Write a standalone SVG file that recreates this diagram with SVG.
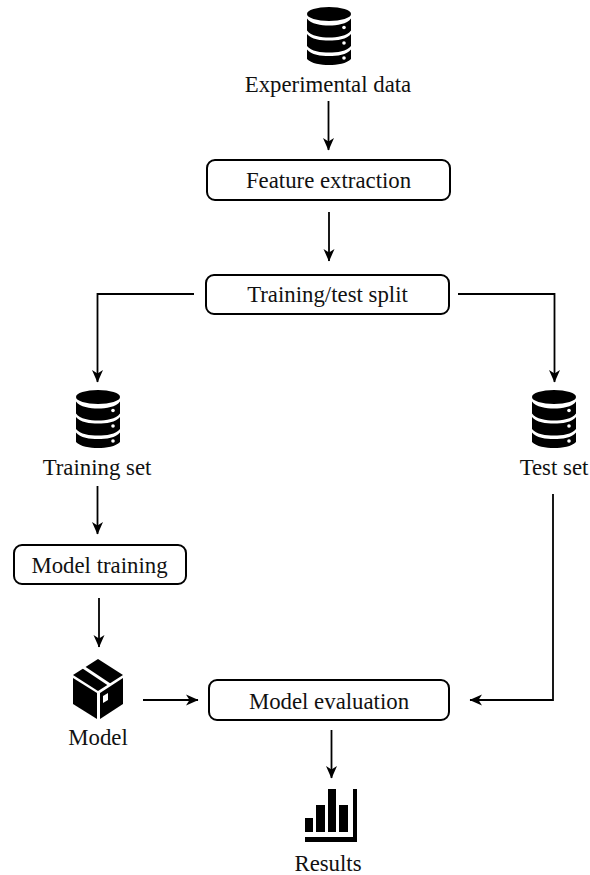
<svg xmlns="http://www.w3.org/2000/svg" width="590" height="875" viewBox="0 0 590 875">
<style>
text{font-family:"Liberation Serif","Times New Roman",serif;font-size:22.8px;fill:#111;text-anchor:middle}
.box{fill:#fff;stroke:#000;stroke-width:2}
.c{fill:none;stroke:#000;stroke-width:1.8;marker-end:url(#a)}
</style>
<defs>
<marker id="a" viewBox="0 0 13 12" refX="12" refY="6" markerWidth="13" markerHeight="12" markerUnits="userSpaceOnUse" orient="auto"><path d="M0,0.500L12.500,6L0,11.500L3.500,6Z" fill="#000"/></marker>
<symbol id="db" viewBox="0 0 44 58" width="44" height="58" overflow="visible">
<ellipse cx="22" cy="7" rx="22" ry="7"/>
<path d="M0,11.500C4,17 14,18.500 22,18.500S40,17 44,11.500V23.500C40,29 30,30.500 22,30.500S4,29 0,23.500Z"/>
<path d="M0,27C4,32.500 14,33.500 22,33.500S40,32.500 44,27V39C40,44.500 30,45.500 22,45.500S4,44.500 0,39Z"/>
<path d="M0,42.500C4,48 14,49 22,49S40,48 44,42.500V52C40,56.500 30,58 22,58S4,56.500 0,52Z"/>
<circle cx="37" cy="20.500" r="1.800" fill="#fff"/><circle cx="37" cy="36" r="1.800" fill="#fff"/><circle cx="37" cy="51" r="1.800" fill="#fff"/>
</symbol>
</defs>
<g id="connectors">
<path class="c" d="M328.500,101V150"/>
<path class="c" d="M329,212V261"/>
<path class="c" d="M194,294H97.500V382"/>
<path class="c" d="M458,294H554.500V382"/>
<path class="c" d="M97.500,486V534"/>
<path class="c" d="M99,598V647"/>
<path class="c" d="M143,700H198"/>
<path class="c" d="M553,494V700H470"/>
<path class="c" d="M331.500,730V778"/>
</g>
<g id="experimental-data"><use href="#db" x="307" y="7"/><text x="328" y="92">Experimental data</text></g>
<g id="feature-extraction"><rect class="box" x="207" y="160" width="243" height="40" rx="8"/><text x="328.500" y="188">Feature extraction</text></g>
<g id="training-test-split"><rect class="box" x="206" y="275" width="243" height="39" rx="8"/><text x="327.500" y="302">Training/test split</text></g>
<g id="training-set"><use href="#db" x="76" y="390"/><text x="97" y="475">Training set</text></g>
<g id="test-set"><use href="#db" x="532" y="390"/><text x="554" y="475">Test set</text></g>
<g id="model-training"><rect class="box" x="14" y="545" width="172" height="39" rx="8"/><text x="99.500" y="573">Model training</text></g>
<g id="model"><path d="M98,659L123,675L98,691L73,675Z"/><path d="M73,678L97,693V719L73,704Z"/><path d="M123,678V704L100,719V693Z"/>
<path d="M83,667L110,685" stroke="#fff" stroke-width="3" fill="none"/><path d="M103,696L108,693V700L103,703Z" fill="#fff"/><text x="98" y="745">Model</text></g>
<g id="model-evaluation"><rect class="box" x="209" y="680" width="240" height="40" rx="8"/><text x="329" y="709">Model evaluation</text></g>
<g id="results"><path d="M305,818H313V832H305ZM316,805H325V832H316ZM328,789H336V832H328ZM339,805H348V832H339Z"/><path d="M305,837H353V789H357V842H305Z"/><text x="328" y="871">Results</text></g>
</svg>
